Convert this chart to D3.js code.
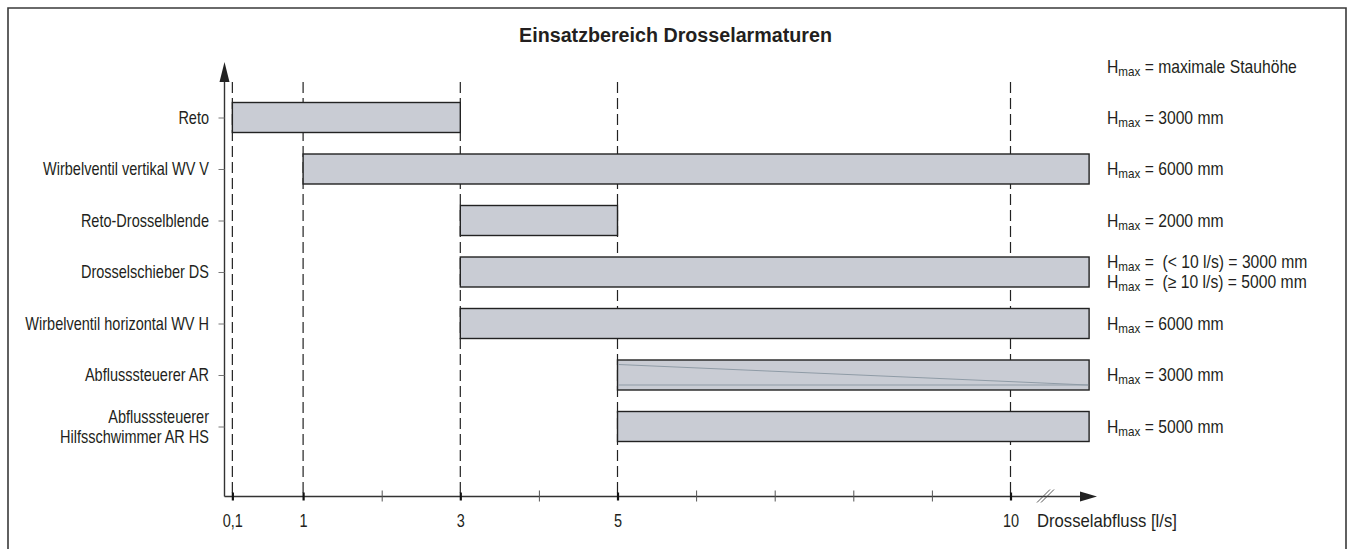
<!DOCTYPE html>
<html><head><meta charset="utf-8">
<script src="https://cdn.jsdelivr.net/npm/d3@7"></script>
<style>
html,body{margin:0;padding:0;background:#fff;}
svg text{font-family:"Liberation Sans",Arial,sans-serif;fill:#231f20;white-space:pre;}
</style></head><body>
<script>
// ---- data ----
const categories = ["Reto","Wirbelventil vertikal WV V","Reto-Drosselblende","Drosselschieber DS","Wirbelventil horizontal WV H","Abflusssteuerer AR","Abflusssteuerer\nHilfsschwimmer AR HS"];
const rangeStart = [0.1, 1, 3, 3, 3, 5, 5];
const rangeEnd   = [3, 11, 5, 11, 11, 11, 11];   // 11 = open end beyond the axis break
const hmaxNotes  = [["= 3000 mm"],["= 6000 mm"],["= 2000 mm"],["=  (< 10 l/s) = 3000 mm","=  (\u2265 10 l/s) = 5000 mm"],["= 6000 mm"],["= 3000 mm"],["= 5000 mm"]];
const majorTicks = [0.1, 1, 3, 5, 10];
const majorTickLabels = ["0,1","1","3","5","10"];
const minorTicks = [2, 4, 6, 7, 8, 9];
const title = "Einsatzbereich Drosselarmaturen";
const xAxisTitle = "Drosselabfluss [l/s]";
const legendNote = "= maximale Stauhöhe";

const W = 1351, H = 549;
const svg = d3.select("body").append("svg").attr("width", W).attr("height", H);

// condensed look: measure a regular-width font and squeeze horizontally
function measure(str, size, weight) {
  const t = svg.append("text").attr("font-size", size).attr("font-weight", weight || "normal").text(str);
  const w = t.node().getComputedTextLength(); t.remove(); return w;
}
const FS = 17.5;
const sx = 166 / measure("Wirbelventil vertikal WV V", FS);
const sxAxis = 140 / measure(xAxisTitle, FS);
const sxTitle = 313 / measure(title, 21, "bold");

function ctext(px, py, opts) {
  const g = svg.append("g").attr("transform", `translate(${px},${py}) scale(${opts.s || sx},1)`);
  return g.append("text").attr("x", 0).attr("y", 0)
    .attr("font-size", opts.size || FS).attr("text-anchor", opts.anchor || "start")
    .attr("font-weight", opts.weight || "normal");
}

// frame (open at bottom)
svg.append("path").attr("d", `M8,${H+2} L8,8 L1346,8 L1346,${H+2}`)
  .attr("fill","none").attr("stroke","#3a3a3a").attr("stroke-width",1.6);

ctext(675.5, 42, {size: 21, weight: "bold", anchor: "middle", s: sxTitle}).text(title);

const x = d3.scaleLinear().domain([0, 11]).range([224.5, 1089.1]);
const y = d3.scalePoint().domain(categories).range([117.5, 426.5]);
const axisY = 496.5, barH = 30;

// dashed guide lines
svg.append("g").selectAll("line").data(majorTicks).join("line")
  .attr("x1", d => x(d)).attr("x2", d => x(d)).attr("y1", 82).attr("y2", axisY)
  .attr("stroke","#222").attr("stroke-width",1.2).attr("stroke-dasharray","11,5");

// bars
const bars = svg.append("g");
categories.forEach((c, i) => {
  bars.append("rect").attr("x", x(rangeStart[i])).attr("y", y(c) - barH/2)
    .attr("width", x(rangeEnd[i]) - x(rangeStart[i])).attr("height", barH)
    .attr("fill","#c9ccd4").attr("stroke","#222").attr("stroke-width",1.4);
});
// AR decoration lines
{
  const c = categories[5], i = 5;
  const g = svg.append("g").attr("stroke","#8f9ba6").attr("stroke-width",1);
  g.append("line").attr("x1", x(rangeStart[i])+1).attr("x2", x(rangeEnd[i])-1)
    .attr("y1", y(c) - barH/2 + 4.5).attr("y2", y(c) + barH/2 - 5);
  g.append("line").attr("x1", x(rangeStart[i])+1).attr("x2", x(rangeEnd[i])-1)
    .attr("y1", y(c) + barH/2 - 5).attr("y2", y(c) + barH/2 - 5);
}

// x axis line
svg.append("line").attr("x1", x(0)).attr("x2", 1085).attr("y1", axisY).attr("y2", axisY)
  .attr("stroke","#333").attr("stroke-width",1.4);
svg.append("path").attr("d", `M1080,${axisY-5} L1097,${axisY} L1080,${axisY+5} Z`).attr("fill","#222");
// break marks
svg.append("g").attr("stroke","#444").attr("stroke-width",0.9).selectAll("line").data([0,4]).join("line")
  .attr("x1", d => 1037 + d).attr("y1", axisY + 6).attr("x2", d => 1050 + d).attr("y2", axisY - 7);

// minor ticks
svg.append("g").attr("transform", `translate(0,${axisY+5})`)
  .call(d3.axisBottom(x).tickValues(minorTicks).tickSize(-11).tickFormat(""))
  .call(g => { g.select(".domain").remove(); g.selectAll("line").attr("stroke","#555").attr("stroke-width",1); });
// major ticks + labels
svg.append("g").attr("transform", `translate(0,${axisY+4})`)
  .call(d3.axisBottom(x).tickValues(majorTicks).tickSize(-8).tickPadding(14)
        .tickFormat((d, i) => majorTickLabels[i]))
  .call(g => { g.select(".domain").remove();
               g.selectAll("line").attr("stroke","#111").attr("stroke-width",2.2);
               g.selectAll("text").attr("font-size",FS).attr("fill","#231f20")
                 .attr("font-family",'"Liberation Sans",Arial,sans-serif')
                 .attr("transform", `scale(${sx},1)`); });
ctext(1037, 527, {s: sxAxis}).text(xAxisTitle);

// y axis
svg.append("line").attr("x1", x(0)).attr("x2", x(0)).attr("y1", axisY).attr("y2", 78)
  .attr("stroke","#333").attr("stroke-width",1.4);
svg.append("path").attr("d", `M${x(0)-5},82 L${x(0)},62 L${x(0)+5},82 Z`).attr("fill","#222");
svg.append("g").attr("transform", `translate(${x(0)},0)`)
  .call(d3.axisLeft(y).tickSize(6).tickPadding(10).tickFormat(""))
  .call(g => { g.select(".domain").remove(); g.selectAll("line").attr("stroke","#777").attr("stroke-width",1); });

// category labels
categories.forEach(c => {
  const lines = c.split("\n");
  lines.forEach((ln, k) => {
    ctext(209, y(c) + 6 + (k - (lines.length-1)/2) * 20, {anchor: "end"}).text(ln);
  });
});

// right-hand Hmax notes
function hmax(yy, rest, s) {
  const t = ctext(1107, yy, {s: s});
  t.append("tspan").text("H");
  t.append("tspan").attr("font-size",13).attr("dy",3).text("max");
  t.append("tspan").attr("dy",-3).text(" " + rest);
  return t;
}
// measure the header note unscaled to find the note squeeze
const probe = hmax(-100, legendNote, 1);
const sxNote = 190 / probe.node().getBBox().width;
probe.node().parentNode.remove();

hmax(73, legendNote, sxNote);
categories.forEach((c, i) => {
  const n = hmaxNotes[i];
  n.forEach((s, k) => hmax(y(c) + 6 + (k - (n.length-1)/2) * 20, s, sxNote));
});
</script>
</body></html>
